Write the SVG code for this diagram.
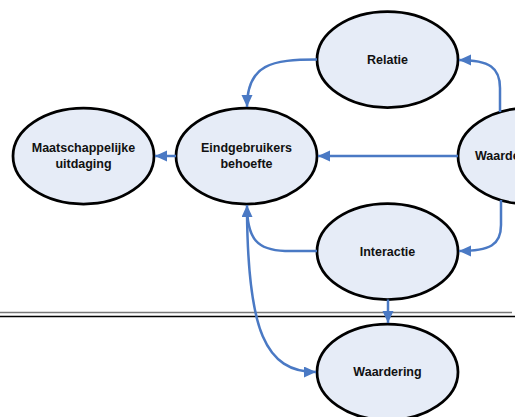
<svg xmlns="http://www.w3.org/2000/svg" width="515" height="417" viewBox="0 0 515 417">
<style>
.node ellipse{fill:#e6ecf7;stroke:#000;stroke-width:2.75}
.node text{font-family:"Liberation Sans",Arial,sans-serif;font-weight:bold;font-size:12.5px;fill:#111;text-anchor:middle}
.c path{fill:none;stroke:#4a79c4;stroke-width:2.5}
</style>
<defs>
<marker id="ah" markerUnits="userSpaceOnUse" markerWidth="13" markerHeight="12" refX="12" refY="5.5" orient="auto">
<path d="M0,0 L12,5.5 L0,11 z" fill="#4a79c4"/>
</marker>
</defs>
<rect width="515" height="417" fill="#fff"/>
<g id="divider">
<line x1="0" y1="312.5" x2="512" y2="312.5" stroke="#777" stroke-width="1.5"/>
<line x1="0" y1="316.5" x2="515" y2="316.5" stroke="#000" stroke-width="1.5"/>
</g>
<g id="maatschappelijke" class="node">
<ellipse cx="83.5" cy="156" rx="70.5" ry="48"/>
<text x="83.5" y="152">Maatschappelijke</text>
<text x="83.5" y="168">uitdaging</text>
</g>
<g id="eindgebruikers" class="node">
<ellipse cx="246.5" cy="156" rx="70.5" ry="48"/>
<text x="246.5" y="152">Eindgebruikers</text>
<text x="246.5" y="168">behoefte</text>
</g>
<g id="relatie" class="node">
<ellipse cx="387.5" cy="59.5" rx="70.5" ry="48"/>
<text x="387.5" y="64">Relatie</text>
</g>
<g id="waardering-rechts" class="node">
<ellipse cx="528.5" cy="156" rx="70.5" ry="48"/>
<text x="475" y="160" style="text-anchor:start">Waardering</text>
</g>
<g id="interactie" class="node">
<ellipse cx="387.5" cy="251.5" rx="70.5" ry="48"/>
<text x="387.5" y="256">Interactie</text>
</g>
<g id="waardering" class="node">
<ellipse cx="387.5" cy="372" rx="70.5" ry="48"/>
<text x="387.5" y="376">Waardering</text>
</g>
<g id="connectors" class="c">
<path d="M176,156 L155,156" marker-end="url(#ah)"/>
<path d="M458,156 L318,156" marker-end="url(#ah)"/>
<path d="M317,59.5 C272,59.5 247,64 247,107" marker-end="url(#ah)"/>
<path d="M500,112 L500,88 C500,68 490,60 459,60" marker-end="url(#ah)"/>
<path d="M501,200 L501,225 C501,245 490,251 459,251" marker-end="url(#ah)"/>
<path d="M317,251 L285,251 C258,250 247,240 247,205" marker-end="url(#ah)"/>
<path d="M247,212 C248,330 265,372 316,372" marker-end="url(#ah)"/>
<path d="M388,299.5 L388,323" marker-end="url(#ah)"/>
</g>
</svg>
